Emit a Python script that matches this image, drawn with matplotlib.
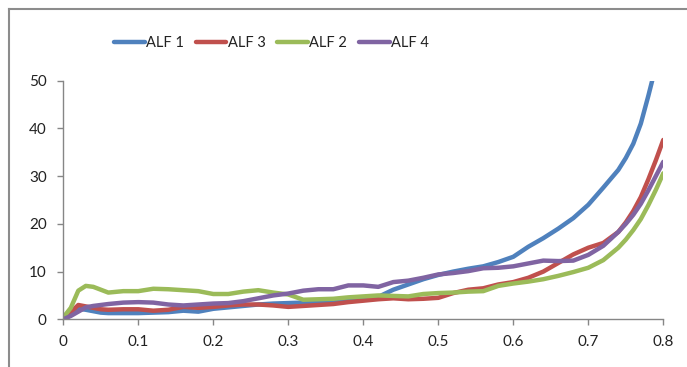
import matplotlib
matplotlib.use("Agg")
import matplotlib.pyplot as plt
from matplotlib.lines import Line2D

plt.rcParams['font.family'] = ['Lato', 'DejaVu Sans']

x = [0, .01, .02, .03, .04, .05, .06, .08, .10, .12, .14, .16, .18, .20, .22, .24, .26, .28,
     .30, .32, .34, .36, .38, .40, .42, .44, .46, .48, .50, .52, .54, .56, .58, .60, .62, .64,
     .66, .68, .70, .72, .74, .75, .76, .77, .78, .79, .80]

alf1 = [0, 1.2, 2.2, 2.0, 1.7, 1.4, 1.3, 1.3, 1.3, 1.4, 1.5, 1.8, 1.6, 2.2, 2.5, 2.8, 3.1, 3.3,
        3.4, 3.5, 3.6, 3.7, 3.9, 4.3, 4.7, 6.2, 7.3, 8.4, 9.3, 10.0, 10.6, 11.1, 12.0, 13.1, 15.2, 17.0,
        19.0, 21.2, 24.0, 27.6, 31.3, 33.8, 36.8, 41.0, 46.8, 53, 60]
alf3 = [0, 1.5, 3.0, 2.7, 2.4, 2.1, 2.0, 2.1, 2.1, 1.8, 2.0, 2.6, 2.4, 2.6, 2.9, 3.1, 3.1, 2.9,
        2.6, 2.8, 3.0, 3.2, 3.6, 3.9, 4.2, 4.4, 4.2, 4.3, 4.5, 5.5, 6.2, 6.5, 7.3, 7.8, 8.7, 10.0,
        11.8, 13.6, 15.0, 16.0, 18.3, 20.3, 22.7, 25.6, 29.3, 33.3, 37.6]
alf2 = [0.4, 2.4, 6.0, 7.0, 6.8, 6.2, 5.6, 5.9, 5.9, 6.4, 6.3, 6.1, 5.9, 5.3, 5.3, 5.8, 6.1, 5.6,
        5.2, 4.1, 4.2, 4.3, 4.6, 4.8, 5.0, 4.9, 4.8, 5.3, 5.5, 5.6, 5.8, 5.9, 7.0, 7.5, 7.9, 8.4,
        9.1, 9.9, 10.8, 12.4, 15.0, 16.7, 18.7, 21.0, 23.9, 27.1, 30.6]
alf4 = [0, 0.7, 1.6, 2.5, 2.8, 3.0, 3.2, 3.5, 3.6, 3.5, 3.1, 2.9, 3.1, 3.3, 3.4, 3.8, 4.4, 5.0,
        5.4, 6.0, 6.3, 6.3, 7.1, 7.1, 6.8, 7.8, 8.1, 8.7, 9.4, 9.7, 10.1, 10.7, 10.8, 11.1, 11.7, 12.3,
        12.2, 12.3, 13.5, 15.4, 18.3, 20.0, 21.9, 24.2, 27.0, 30.0, 33.0]

series = [("ALF 1", alf1, "#4F81BD"),
          ("ALF 3", alf3, "#C0504D"),
          ("ALF 2", alf2, "#9BBB59"),
          ("ALF 4", alf4, "#8064A2")]

fig = plt.figure(figsize=(6.87, 3.67), dpi=100)
ax = fig.add_axes([63.3 / 687, 1 - 319.3 / 367, 600 / 687, (319.3 - 80.7) / 367])

for name, vals, col in series:
    ax.plot(x, vals, color=col, lw=3.2, label=name, solid_capstyle="round", solid_joinstyle="round")

ax.set_xlim(0, 0.8)
ax.set_ylim(0, 50)
ax.set_xticks([0, 0.1, 0.2, 0.3, 0.4, 0.5, 0.6, 0.7, 0.8])
ax.set_xticklabels(["0", "0.1", "0.2", "0.3", "0.4", "0.5", "0.6", "0.7", "0.8"])
ax.set_yticks([0, 10, 20, 30, 40, 50])

for s in ["top", "right"]:
    ax.spines[s].set_visible(False)
for s in ["left", "bottom"]:
    ax.spines[s].set_color("#868686")
    ax.spines[s].set_linewidth(1)
ax.tick_params(direction="out", length=4, width=1, color="#868686", labelsize=11, labelcolor="#222222")
ax.tick_params(axis="x", pad=7)
ax.tick_params(axis="y", pad=8)

fig.legend(loc="center", bbox_to_anchor=(271.5 / 687, 1 - 43 / 367), ncol=4, frameon=False,
           fontsize=10.5, handlelength=2.1, handletextpad=0.1, columnspacing=0.8,
           labelcolor="#222222")

# chart frame
fig.add_artist(Line2D([8.5 / 687, 8.5 / 687], [0, 1 - 8.5 / 367], transform=fig.transFigure,
                      color="#8c8c8c", lw=1.5))
fig.add_artist(Line2D([8.5 / 687, 1], [1 - 8.5 / 367, 1 - 8.5 / 367], transform=fig.transFigure,
                      color="#8c8c8c", lw=1.5))

fig.savefig("out.png", dpi=100)
